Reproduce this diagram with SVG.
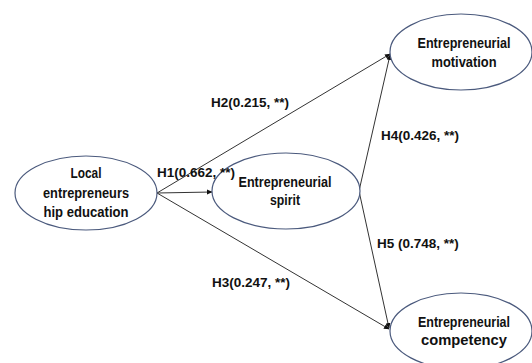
<svg xmlns="http://www.w3.org/2000/svg" width="532" height="363" viewBox="0 0 532 363">
<style>
.node ellipse{fill:#fff;stroke:#4b5a7d;stroke-width:1.2}
.node text{font-family:"Liberation Sans",Arial,sans-serif;font-size:15px;font-weight:bold;fill:#111;text-anchor:middle}
.lbl{font-family:"Liberation Sans",Arial,sans-serif;font-size:13.5px;font-weight:bold;fill:#111}
.conn line{stroke:#333;stroke-width:1;marker-end:url(#ah)}
</style>
<defs>
<marker id="ah" markerWidth="6" markerHeight="6" refX="5" refY="3" orient="auto" markerUnits="userSpaceOnUse">
<path d="M0,0.5 L5.5,3 L0,5.5 Z" fill="#111"/>
</marker>
</defs>
<rect width="532" height="363" fill="#fff"/>
<g id="connectors" class="conn">
<line x1="157" y1="193" x2="390" y2="54"/>
<line x1="157" y1="193" x2="212" y2="192"/>
<line x1="157" y1="193" x2="389" y2="329"/>
<line x1="359" y1="191" x2="390" y2="55"/>
<line x1="359" y1="191" x2="389" y2="328"/>
</g>
<g id="node-education" class="node">
<ellipse cx="86" cy="193" rx="71" ry="37"/>
<text x="86" y="178" textLength="31" lengthAdjust="spacingAndGlyphs">Local</text>
<text x="86" y="198" textLength="86" lengthAdjust="spacingAndGlyphs">entrepreneurs</text>
<text x="86" y="217" textLength="85" lengthAdjust="spacingAndGlyphs">hip education</text>
</g>
<g id="node-spirit" class="node">
<ellipse cx="286" cy="191" rx="74" ry="38"/>
<text x="285" y="187" textLength="93" lengthAdjust="spacingAndGlyphs">Entrepreneurial</text>
<text x="285" y="205" textLength="30" lengthAdjust="spacingAndGlyphs">spirit</text>
</g>
<g id="node-motivation" class="node">
<ellipse cx="461" cy="52" rx="71" ry="38"/>
<text x="464" y="48" textLength="93" lengthAdjust="spacingAndGlyphs">Entrepreneurial</text>
<text x="464" y="67" textLength="65" lengthAdjust="spacingAndGlyphs">motivation</text>
</g>
<g id="node-competency" class="node">
<ellipse cx="461" cy="331" rx="71" ry="38"/>
<text x="464" y="327" textLength="92" lengthAdjust="spacingAndGlyphs">Entrepreneurial</text>
<text x="464" y="345" textLength="86" lengthAdjust="spacingAndGlyphs">competency</text>
</g>
<g id="labels">
<text class="lbl" x="157" y="177">H1(0.662, **)</text>
<text class="lbl" x="211" y="107">H2(0.215, **)</text>
<text class="lbl" x="212" y="287">H3(0.247, **)</text>
<text class="lbl" x="381" y="140">H4(0.426, **)</text>
<text class="lbl" x="377" y="248">H5 (0.748, **)</text>
</g>
</svg>
